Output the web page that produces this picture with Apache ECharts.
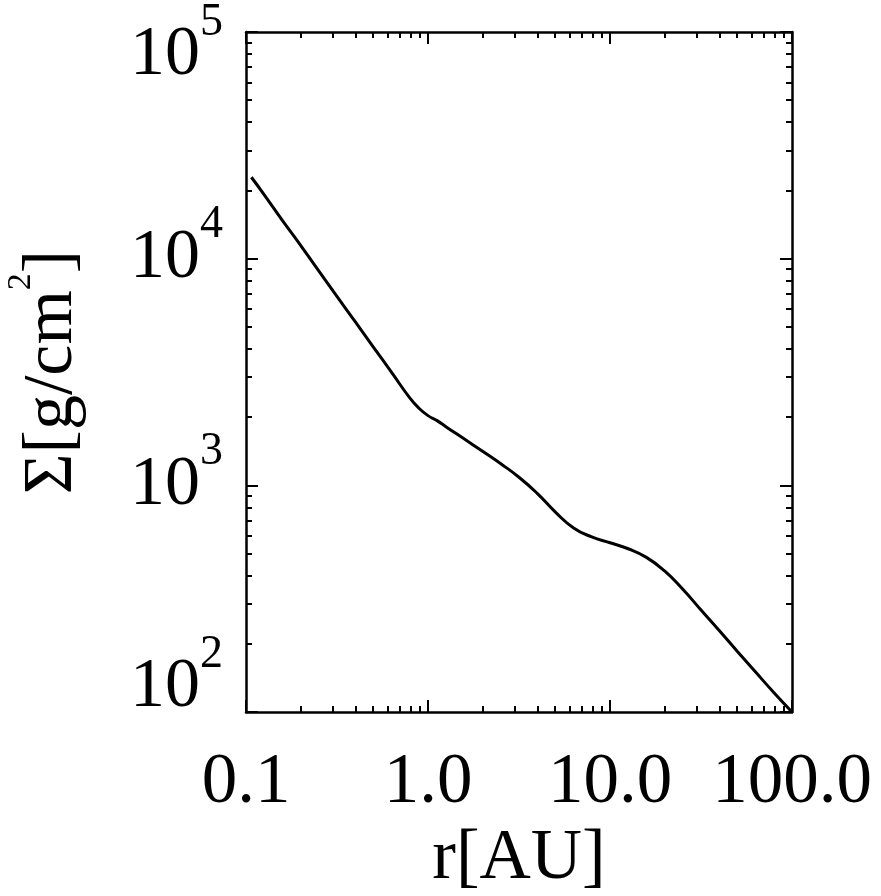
<!DOCTYPE html>
<html><head><meta charset="utf-8">
<script src="https://cdn.jsdelivr.net/npm/echarts@6/dist/echarts.min.js"></script>
<style>html,body{margin:0;padding:0;background:#fff}#c{width:881px;height:896px}</style>
</head><body><div id="c"></div>
<script>
// r [AU]
const radius = [0.107, 0.126, 0.158, 0.2, 0.251, 0.316, 0.398, 0.501, 0.631, 0.794, 0.891, 1.0, 1.122, 1.259, 1.585, 1.995, 2.512, 3.162, 3.981, 5.012, 6.31, 7.94, 10, 12.59, 15.85, 19.95, 25.12, 31.62, 39.81, 50.12, 63.1, 79.4, 100];
// Sigma [g/cm^2]
const sigma = [22860, 19140, 14790, 11430, 8830, 6820, 5270, 4075, 3150, 2430, 2190, 2030, 1930, 1810, 1600, 1413, 1245, 1086, 922, 762, 649, 592, 558, 525, 481, 419, 348, 282, 229, 185, 150, 122, 100];
const xTickLabels = ['0.1', '1.0', '10.0', '100.0'];
const yTickBase = '10';
const yTickExponents = ['2', '3', '4', '5'];
const xTitle = 'r[AU]';
const yTitleMain = 'Σ[g/cm';
const yTitleSup = '2';
const yTitleEnd = ']';

const F = "'Liberation Serif', 'Times New Roman', serif";
const K = '#000';

function xAxisCfg(pos, show) {
  return {
    type: 'log', logBase: 10, min: 0.1, max: 100, position: pos,
    axisLine: { show: true, onZero: false, lineStyle: { color: K, width: 2.5 } },
    axisTick: { show: true, inside: true, length: 12, lineStyle: { color: K, width: 2 } },
    minorTick: { show: true, splitNumber: 9, length: 6, lineStyle: { color: K, width: 2 } },
    splitLine: { show: false }, minorSplitLine: { show: false },
    axisLabel: {
      show: show, margin: 36, fontFamily: F, fontSize: 71, color: K,
      formatter: v => xTickLabels[Math.round(Math.log10(v)) + 1]
    },
    name: show ? xTitle : '', nameLocation: 'middle', nameGap: 106,
    nameTextStyle: { fontFamily: F, fontSize: 71, color: K }
  };
}
const supRich = {
  midb: { fontFamily: F, fontSize: 70, color: K, verticalAlign: 'bottom', lineHeight: 113, padding: [0, 0, 21.5, 0] },
  mids: { fontFamily: F, fontSize: 46, color: K, verticalAlign: 'top' },
  lob: { fontFamily: F, fontSize: 70, color: K, verticalAlign: 'bottom', lineHeight: 161, padding: [0, 0, 69.5, 0] },
  los: { fontFamily: F, fontSize: 46, color: K, verticalAlign: 'top' },
  hib: { fontFamily: F, fontSize: 70, color: K, verticalAlign: 'bottom', lineHeight: 120, padding: [0, 0, 1, 0] },
  his: { fontFamily: F, fontSize: 46, color: K, verticalAlign: 'top', padding: [27.5, 0, 0, 0] }
};
function yAxisCfg(pos, show) {
  return {
    type: 'log', logBase: 10, min: 100, max: 100000, position: pos,
    axisLine: { show: true, onZero: false, lineStyle: { color: K, width: 2.5 } },
    axisTick: { show: true, inside: true, length: 12, lineStyle: { color: K, width: 2 } },
    minorTick: { show: true, splitNumber: 9, length: 6, lineStyle: { color: K, width: 2 } },
    splitLine: { show: false }, minorSplitLine: { show: false },
    axisLabel: {
      show: show, margin: 23, color: K, rich: supRich,
      formatter: v => {
        const i = Math.round(Math.log10(v)) - 2;
        const key = i === 0 ? 'lo' : (i === yTickExponents.length - 1 ? 'hi' : 'mid');
        return '{' + key + 'b|' + yTickBase + '}{' + key + 's|' + yTickExponents[i] + '}';
      }
    },
    name: show ? ('{a|' + yTitleMain + '}{s|' + yTitleSup + '}{a|' + yTitleEnd + '}') : '',
    nameLocation: 'middle', nameGap: 158, nameRotate: 90,
    nameTextStyle: {
      color: K,
      rich: {
        a: { fontFamily: F, fontSize: 70, color: K, verticalAlign: 'bottom', lineHeight: 84 },
        s: { fontFamily: F, fontSize: 34, color: K, verticalAlign: 'top' }
      }
    }
  };
}

const chart = echarts.init(document.getElementById('c'), null, { renderer: 'canvas' });
chart.setOption({
  animation: false,
  backgroundColor: '#fff',
  grid: { left: 246, right: 89, top: 32, bottom: 184, containLabel: false, outerBoundsMode: 'none' },
  xAxis: [xAxisCfg('bottom', true), xAxisCfg('top', false)],
  yAxis: [yAxisCfg('left', true), yAxisCfg('right', false)],
  series: [{
    type: 'line', xAxisIndex: 0, yAxisIndex: 0,
    data: radius.map((r, i) => [r, sigma[i]]),
    showSymbol: false, smooth: 0.5, silent: true,
    lineStyle: { color: K, width: 3 }
  }]
});
</script>
</body></html>
